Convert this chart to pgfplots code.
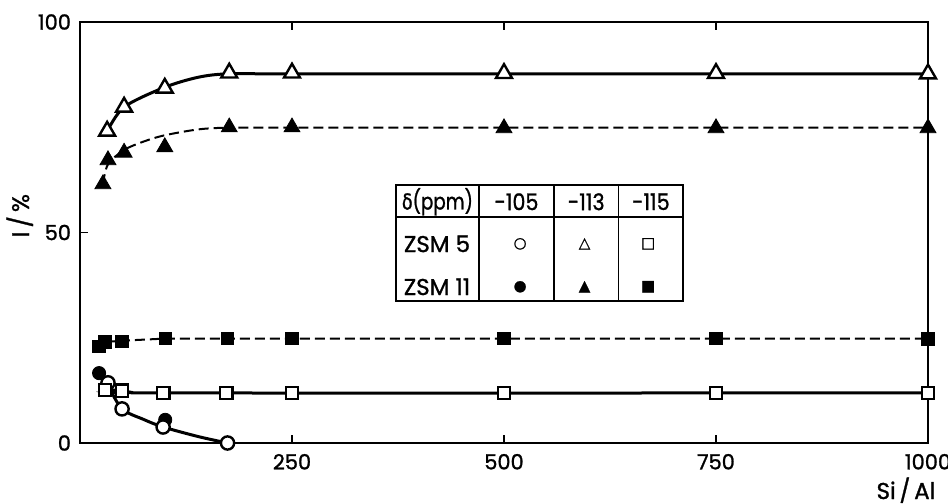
\documentclass[border=0pt]{standalone}
\usepackage{fontspec}
\setmainfont{Poppins}[UprightFeatures={FakeBold=1.2}]
\newfontfamily\symfont{DejaVu Sans}[FakeBold=1.2]
\usepackage{pgfplots}
\pgfplotsset{compat=1.18}
\begin{document}
\begin{tikzpicture}
\path[use as bounding box] (-40bp,-30.5bp) rectangle (434bp,221.5bp);
\begin{axis}[
  at={(0,0)}, anchor=south west,
  scale only axis, width=424bp, height=210.5bp,
  xmin=0, xmax=1000, ymin=0, ymax=100,
  xtick={250,500,750,1000}, ytick={0,50,100},
  xtick pos=both, ytick pos=left,
  tick align=inside, major tick length=4bp,
  axis line style={line width=1bp},
  every tick/.style={line width=0.8bp, black},
  /pgf/number format/assume math mode=true,
  /pgf/number format/1000 sep={},
  ticklabel style={font=\fontsize{10.5}{12}\selectfont},
  xticklabel style={yshift=-2bp},
  yticklabel style={xshift=-1bp},
  clip=false,
]
% fitted curves
\addplot[line width=1.5bp, smooth, tension=0.5] coordinates {(32,74) (52,79.8) (100,84.5) (140,86.9) (176,87.7) (250,87.7) (1000,87.7)};
\addplot[line width=1bp, dash pattern=on 5bp off 2.5bp, smooth, tension=0.5] coordinates {(27,61.5) (33,66.2) (52,69.6) (75,71.6) (100,73.1) (140,74.5) (176,74.9) (250,74.9) (1000,74.9)};
\addplot[line width=1bp, dash pattern=on 5bp off 2.5bp] coordinates {(29.5,24.0) (50,24.3) (100,24.8) (1000,24.8)};
\addplot[line width=1.5bp, smooth, tension=0.5] coordinates {(29.5,12.8) (50,12.4) (100,11.9) (1000,11.9)};
\addplot[line width=1.5bp, smooth, tension=0.5] coordinates {(22.5,16.6) (33,13.6) (49.6,8.1) (75,5.6) (98,3.8) (140,1.5) (174,0)};
% markers: ZSM 11 (filled)
\addplot[only marks, mark=*, mark size=3.3bp, black] coordinates {(22.5,16.6) (100.5,5.5) (174,0)};
\addplot[only marks, mark=triangle*, mark size=4.6bp, black] coordinates {(27,61.5) (33,67.2) (52,69) (100,70.3) (176,75) (250,75) (500,74.8) (750,74.8) (1000,74.8)};
\addplot[only marks, mark=square*, mark size=3.1bp, black] coordinates {(22.5,23.0) (29.5,24.0) (49.6,24.2) (100.5,24.9) (173.8,24.9) (250,24.9) (500,24.8) (750,24.8) (1000,24.7)};
% markers: ZSM 5 (open)
\addplot[only marks, mark=*, mark size=3.3bp, mark options={fill=white, draw=black, line width=1.2bp}] coordinates {(33,14.3) (49.6,8.1) (98,3.8) (174,0)};
\addplot[only marks, mark=triangle*, mark size=4.6bp, mark options={fill=white, draw=black, line width=1.2bp}] coordinates {(32,74.1) (52,79.8) (100,84.3) (176,87.9) (250,87.9) (500,87.8) (750,87.8) (1000,87.7)};
\addplot[only marks, mark=square*, mark size=3.1bp, mark options={fill=white, draw=black, line width=1.2bp}] coordinates {(29.5,12.6) (49.6,12.4) (98,11.9) (172.6,11.9) (250,11.9) (500,11.9) (750,11.9) (1000,11.9)};
% table
\fill[white] (axis cs:372.3,61.3) rectangle (axis cs:711.6,33.7);
\draw[line width=1bp] (axis cs:372.3,61.3) rectangle (axis cs:711.6,33.7);
\draw[line width=0.8bp] (axis cs:372.3,53.7) -- (axis cs:711.6,53.7);
\draw[line width=1.4bp] (axis cs:470.4,61.3) -- (axis cs:470.4,33.7);
\draw[line width=0.8bp] (axis cs:559.1,61.3) -- (axis cs:559.1,33.7);
\draw[line width=0.8bp] (axis cs:634.8,61.3) -- (axis cs:634.8,33.7);
\begin{scope}[every node/.style={font=\fontsize{11.5}{13}\selectfont, inner sep=0pt}]
\node[xscale=0.8] at (axis cs:421.5,57.3) {{\symfont\fontsize{11}{12}\selectfont δ}(ppm)};
\node[xscale=0.9] at (axis cs:514.7,57.3) {-105};
\node[xscale=0.9] at (axis cs:597,57.3) {-113};
\node[xscale=0.9] at (axis cs:673.2,57.3) {-115};
\node at (axis cs:421,47.3) {ZSM 5};
\node at (axis cs:421,37.1) {ZSM 11};
\node[font=\symfont\fontsize{7.5}{9}\selectfont] at (axis cs:519,47.3) {○};
\node[font=\symfont\fontsize{7.5}{9}\selectfont] at (axis cs:595,47.3) {△};
\node[font=\symfont\fontsize{7.5}{9}\selectfont] at (axis cs:670,47.3) {□};
\node[font=\symfont\fontsize{7.5}{9}\selectfont] at (axis cs:519,37.1) {●};
\node[font=\symfont\fontsize{7.5}{9}\selectfont] at (axis cs:595,37.1) {▲};
\node[font=\symfont\fontsize{7.5}{9}\selectfont] at (axis cs:670,37.1) {■};
\end{scope}
% axis labels
\node[font=\fontsize{12}{14}\selectfont, rotate=90] at (rel axis cs:-0.071,0.54) {I\,/\,\%};
\node[font=\fontsize{11.5}{13}\selectfont] at (rel axis cs:0.974,-0.112) {Si\,/\,Al};
\end{axis}
\end{tikzpicture}
\end{document}
